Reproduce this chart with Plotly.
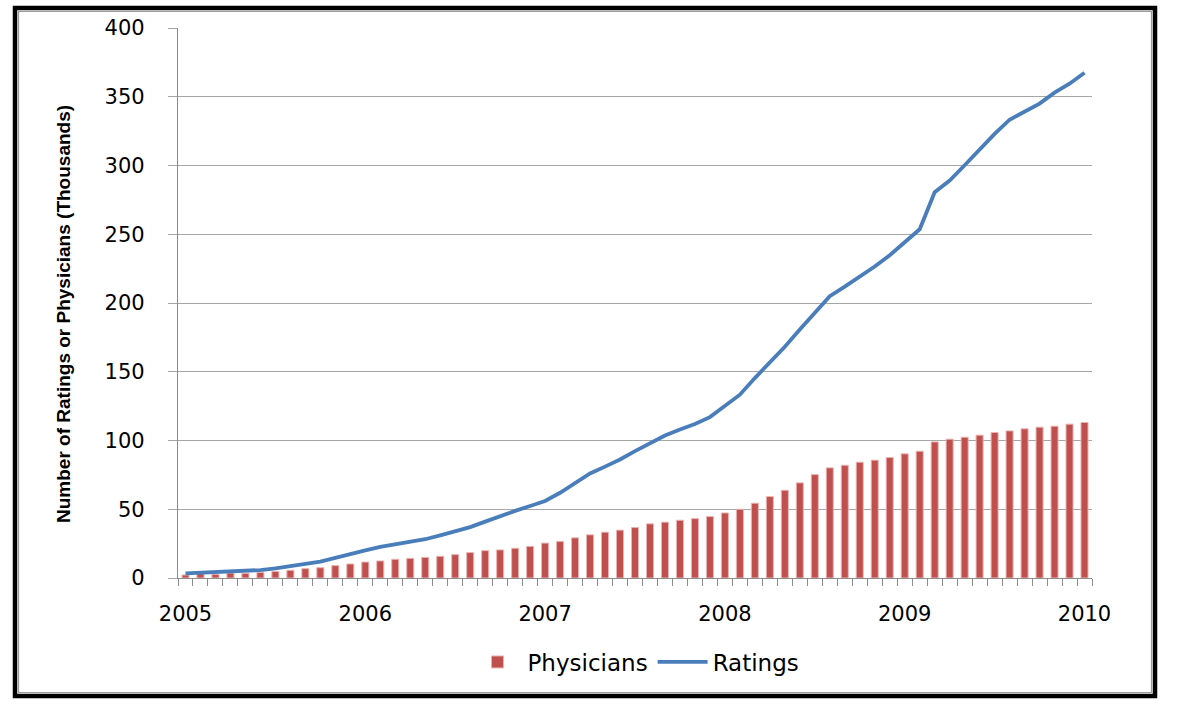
import plotly.graph_objects as go

months = list(range(61))  # Jan 2005 .. Jan 2010, monthly
year_ticks = [0, 12, 24, 36, 48, 60]
year_labels = ["2005", "2006", "2007", "2008", "2009", "2010"]

physicians = [
    2.2, 3.2, 2.7, 3.6, 3.4, 4.1, 4.8, 5.6, 6.8, 7.5, 9.0, 10.2,
    11.6, 12.4, 13.6, 14.3, 15.0, 15.8, 17.0, 18.5, 19.9, 20.4, 21.6, 23.0,
    25.4, 26.6, 29.2, 31.4, 33.3, 34.8, 36.7, 39.4, 40.6, 42.0, 43.2, 44.7,
    47.3, 50.0, 54.4, 59.2, 63.8, 69.2, 75.2, 80.1, 82.0, 84.2, 85.7, 87.6,
    90.3, 92.2, 99.0, 101.0, 102.4, 103.9, 105.8, 107.0, 108.5, 109.7, 110.4, 111.9,
    113.1,
]

ratings = [
    3.4, 3.9, 4.4, 4.6, 5.1, 5.8, 7.0, 8.3, 10.2, 11.9, 14.8, 17.2,
    20.1, 22.6, 24.5, 26.0, 28.2, 31.0, 33.7, 37.0, 41.0, 45.2, 48.8, 52.4,
    56.0, 62.0, 68.8, 76.0, 81.0, 86.2, 92.3, 98.3, 103.6, 108.0, 112.0, 117.0,
    125.0, 133.3, 145.4, 156.6, 168.2, 180.8, 193.0, 205.0, 211.9, 219.2, 226.5, 234.7,
    244.0, 253.6, 280.6, 289.0, 300.2, 312.0, 323.0, 333.3, 339.0, 345.0, 353.0, 359.5,
    367.5,
]

y_ticks = [0, 50, 100, 150, 200, 250, 300, 350, 400]

fig = go.Figure()
fig.add_trace(go.Bar(
    x=months, y=physicians, name="Physicians", width=0.47,
    marker=dict(color="#C0504D", line=dict(color="#E8B4B3", width=1)),
))
fig.add_trace(go.Scatter(
    x=months, y=ratings, name="Ratings", mode="lines",
    line=dict(color="#4A7EBB", width=3.8),
))

W, H = 1178, 728
L, R, T, B = 178, 1092, 28, 578

def px(x):
    return (x - L) / (R - L)

def py(y):
    return (B - y) / (B - T)

fig.update_layout(
    width=W, height=H,
    margin=dict(l=L, r=W - R, t=T, b=H - B),
    paper_bgcolor="white", plot_bgcolor="white",
    font=dict(family="DejaVu Sans", color="#000000"),
    showlegend=True,
    legend=dict(
        orientation="h", x=px(636), y=py(662), xanchor="center", yanchor="middle",
        font=dict(size=23, family="DejaVu Sans"), itemwidth=50,
        traceorder="normal", bgcolor="rgba(0,0,0,0)",
    ),
    xaxis=dict(
        range=[-0.5, 60.5], tickmode="array", tickvals=year_ticks, ticktext=year_labels,
        ticks="", showgrid=False, zeroline=False,
        showline=True, linecolor="#8c8c8c", linewidth=1.3,
        tickfont=dict(size=21, family="DejaVu Sans"), ticklabelstandoff=17,
        minor=dict(ticks="outside", tick0=0.5, dtick=1, ticklen=7, tickcolor="#8c8c8c",
                   tickwidth=1.3, showgrid=False),
    ),
    yaxis=dict(
        range=[0, 400], tickmode="array", tickvals=y_ticks,
        showgrid=True, gridcolor="#a6a6a6", gridwidth=1.3,
        zeroline=False, showline=True, linecolor="#8c8c8c", linewidth=1.3,
        ticks="outside", ticklen=9, tickcolor="#a6a6a6", tickwidth=1.3,
        tickfont=dict(size=21, family="DejaVu Sans"), ticklabelstandoff=19,
    ),
    annotations=[dict(
        text="Number of Ratings or Physicians (Thousands)",
        xref="paper", yref="paper", x=px(63), y=py(314),
        showarrow=False, textangle=-90, xanchor="center", yanchor="middle",
        font=dict(size=19, family="Liberation Sans", color="#000000", weight="bold"),
    )],
    shapes=[
        dict(type="rect", xref="paper", yref="paper",
             x0=px(15), x1=px(1155), y0=py(696), y1=py(8),
             line=dict(color="#000000", width=4.5), layer="above"),
        dict(type="rect", xref="paper", yref="paper",
             x0=px(18.5), x1=px(1151.5), y0=py(692.5), y1=py(11.5),
             line=dict(color="#9a9a9a", width=1.2), layer="above"),
    ],
)

fig.write_html("out.html", config={"displayModeBar": False},
               post_script="document.body.style.margin='0';")
